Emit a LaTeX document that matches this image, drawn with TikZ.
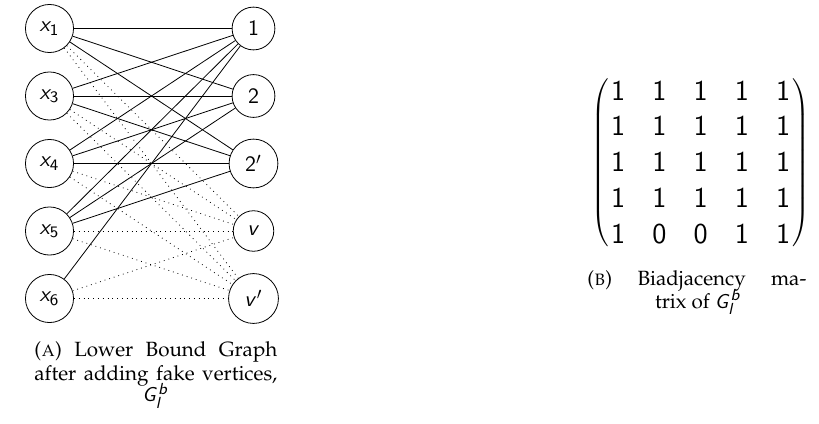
\documentclass[tikz,border=0pt]{standalone}
\usepackage[T1]{fontenc}
\usepackage{mathpazo}
\usepackage{amsmath}
\DeclareMathAlphabet{\mathsfsl}{OT1}{cmss}{m}{sl}
\DeclareMathAlphabet{\mathsfup}{OT1}{cmss}{m}{n}
\tikzset{
  vtx/.style={draw,circle,inner sep=4.4pt,font=\fontsize{10.5}{12}\selectfont},
  realedge/.style={line width=0.4pt},
  fakeedge/.style={line width=0.4pt,dotted},
  entry/.style={anchor=base,inner sep=0pt,font=\fontsize{14.4}{17}\selectfont},
  capline/.style={inner sep=0pt,font=\fontsize{10.3}{12}\selectfont},
  paren/.style={inner sep=0pt}
}
\begin{document}
\begin{tikzpicture}[x=0.5pt,y=-0.5pt]
\useasboundingbox (0,0) rectangle (819,423);
% left vertices
\node[vtx] (x1) at (49.5,28.5) {$\mathsfsl{x}_{\mathsfup{1}}$};
\node[vtx] (x3) at (49.5,96) {$\mathsfsl{x}_{\mathsfup{3}}$};
\node[vtx] (x4) at (49.5,163.5) {$\mathsfsl{x}_{\mathsfup{4}}$};
\node[vtx] (x5) at (49.5,231) {$\mathsfsl{x}_{\mathsfup{5}}$};
\node[vtx] (x6) at (49.5,298.5) {$\mathsfsl{x}_{\mathsfup{6}}$};
% right vertices
\node[vtx] (r1) at (253.5,28.5) {$\mathsfup{1}$};
\node[vtx] (r2) at (253.5,96) {$\mathsfup{2}$};
\node[vtx] (r2p) at (253.5,163.5) {$\mathsfup{2}'$};
\node[vtx] (v) at (253.5,231) {$\mathsfsl{v}$};
\node[vtx] (vp) at (253.5,298.5) {$\mathsfsl{v}'$};
% real edges
\foreach \a in {x1,x3,x4,x5}
  \foreach \b in {r1,r2,r2p}
    \draw[realedge] (\a) -- (\b);
\draw[realedge] (x6) -- (r1);
% fake edges
\foreach \a in {x1,x3,x4,x5,x6}
  \foreach \b in {v,vp}
    \draw[fakeedge] (\a) -- (\b);
% caption A
\node[capline,anchor=base west] (capA1) at (34,356.5)
  {\makebox[121.5pt][s]{(\textsc{a}) Lower Bound Graph}};
\node[capline,anchor=base west] (capA2) at (34,380.5)
  {\makebox[121.5pt][s]{after adding fake vertices,}};
\node[capline,anchor=base] (capA3) at (155.5,401.5)
  {$\mathsfsl{G}_{\mathsfsl{l}}^{\mathsfsl{b}}$};
% matrix entries
\foreach \r/\row in {1/{1,1,1,1,1},2/{1,1,1,1,1},3/{1,1,1,1,1},4/{1,1,1,1,1},5/{1,0,0,1,1}}
  \foreach \e [count=\c] in \row
    \node[entry] (m\r\c) at ({618.25+41.25*(\c-1)},{100+35.75*(\r-1)}) {$\mathsfup{\e}$};
\node[paren,anchor=east] (lp) at (610,162.5)
  {\nulldelimiterspace=0pt$\left(\vcenter{\hrule height 44pt depth 44pt width 0pt}\right.$};
\node[paren,anchor=west] (rp) at (792,162.5)
  {\nulldelimiterspace=0pt$\left.\vcenter{\hrule height 44pt depth 44pt width 0pt}\right)$};
% caption B
\node[capline,anchor=base west] (capB1) at (587,285)
  {\makebox[109.5pt][s]{(\textsc{b}) Biadjacency ma-}};
\node[capline,anchor=base] (capB2) at (698,308)
  {trix of $\mathsfsl{G}_{\mathsfsl{l}}^{\mathsfsl{b}}$};
\end{tikzpicture}
\end{document}
